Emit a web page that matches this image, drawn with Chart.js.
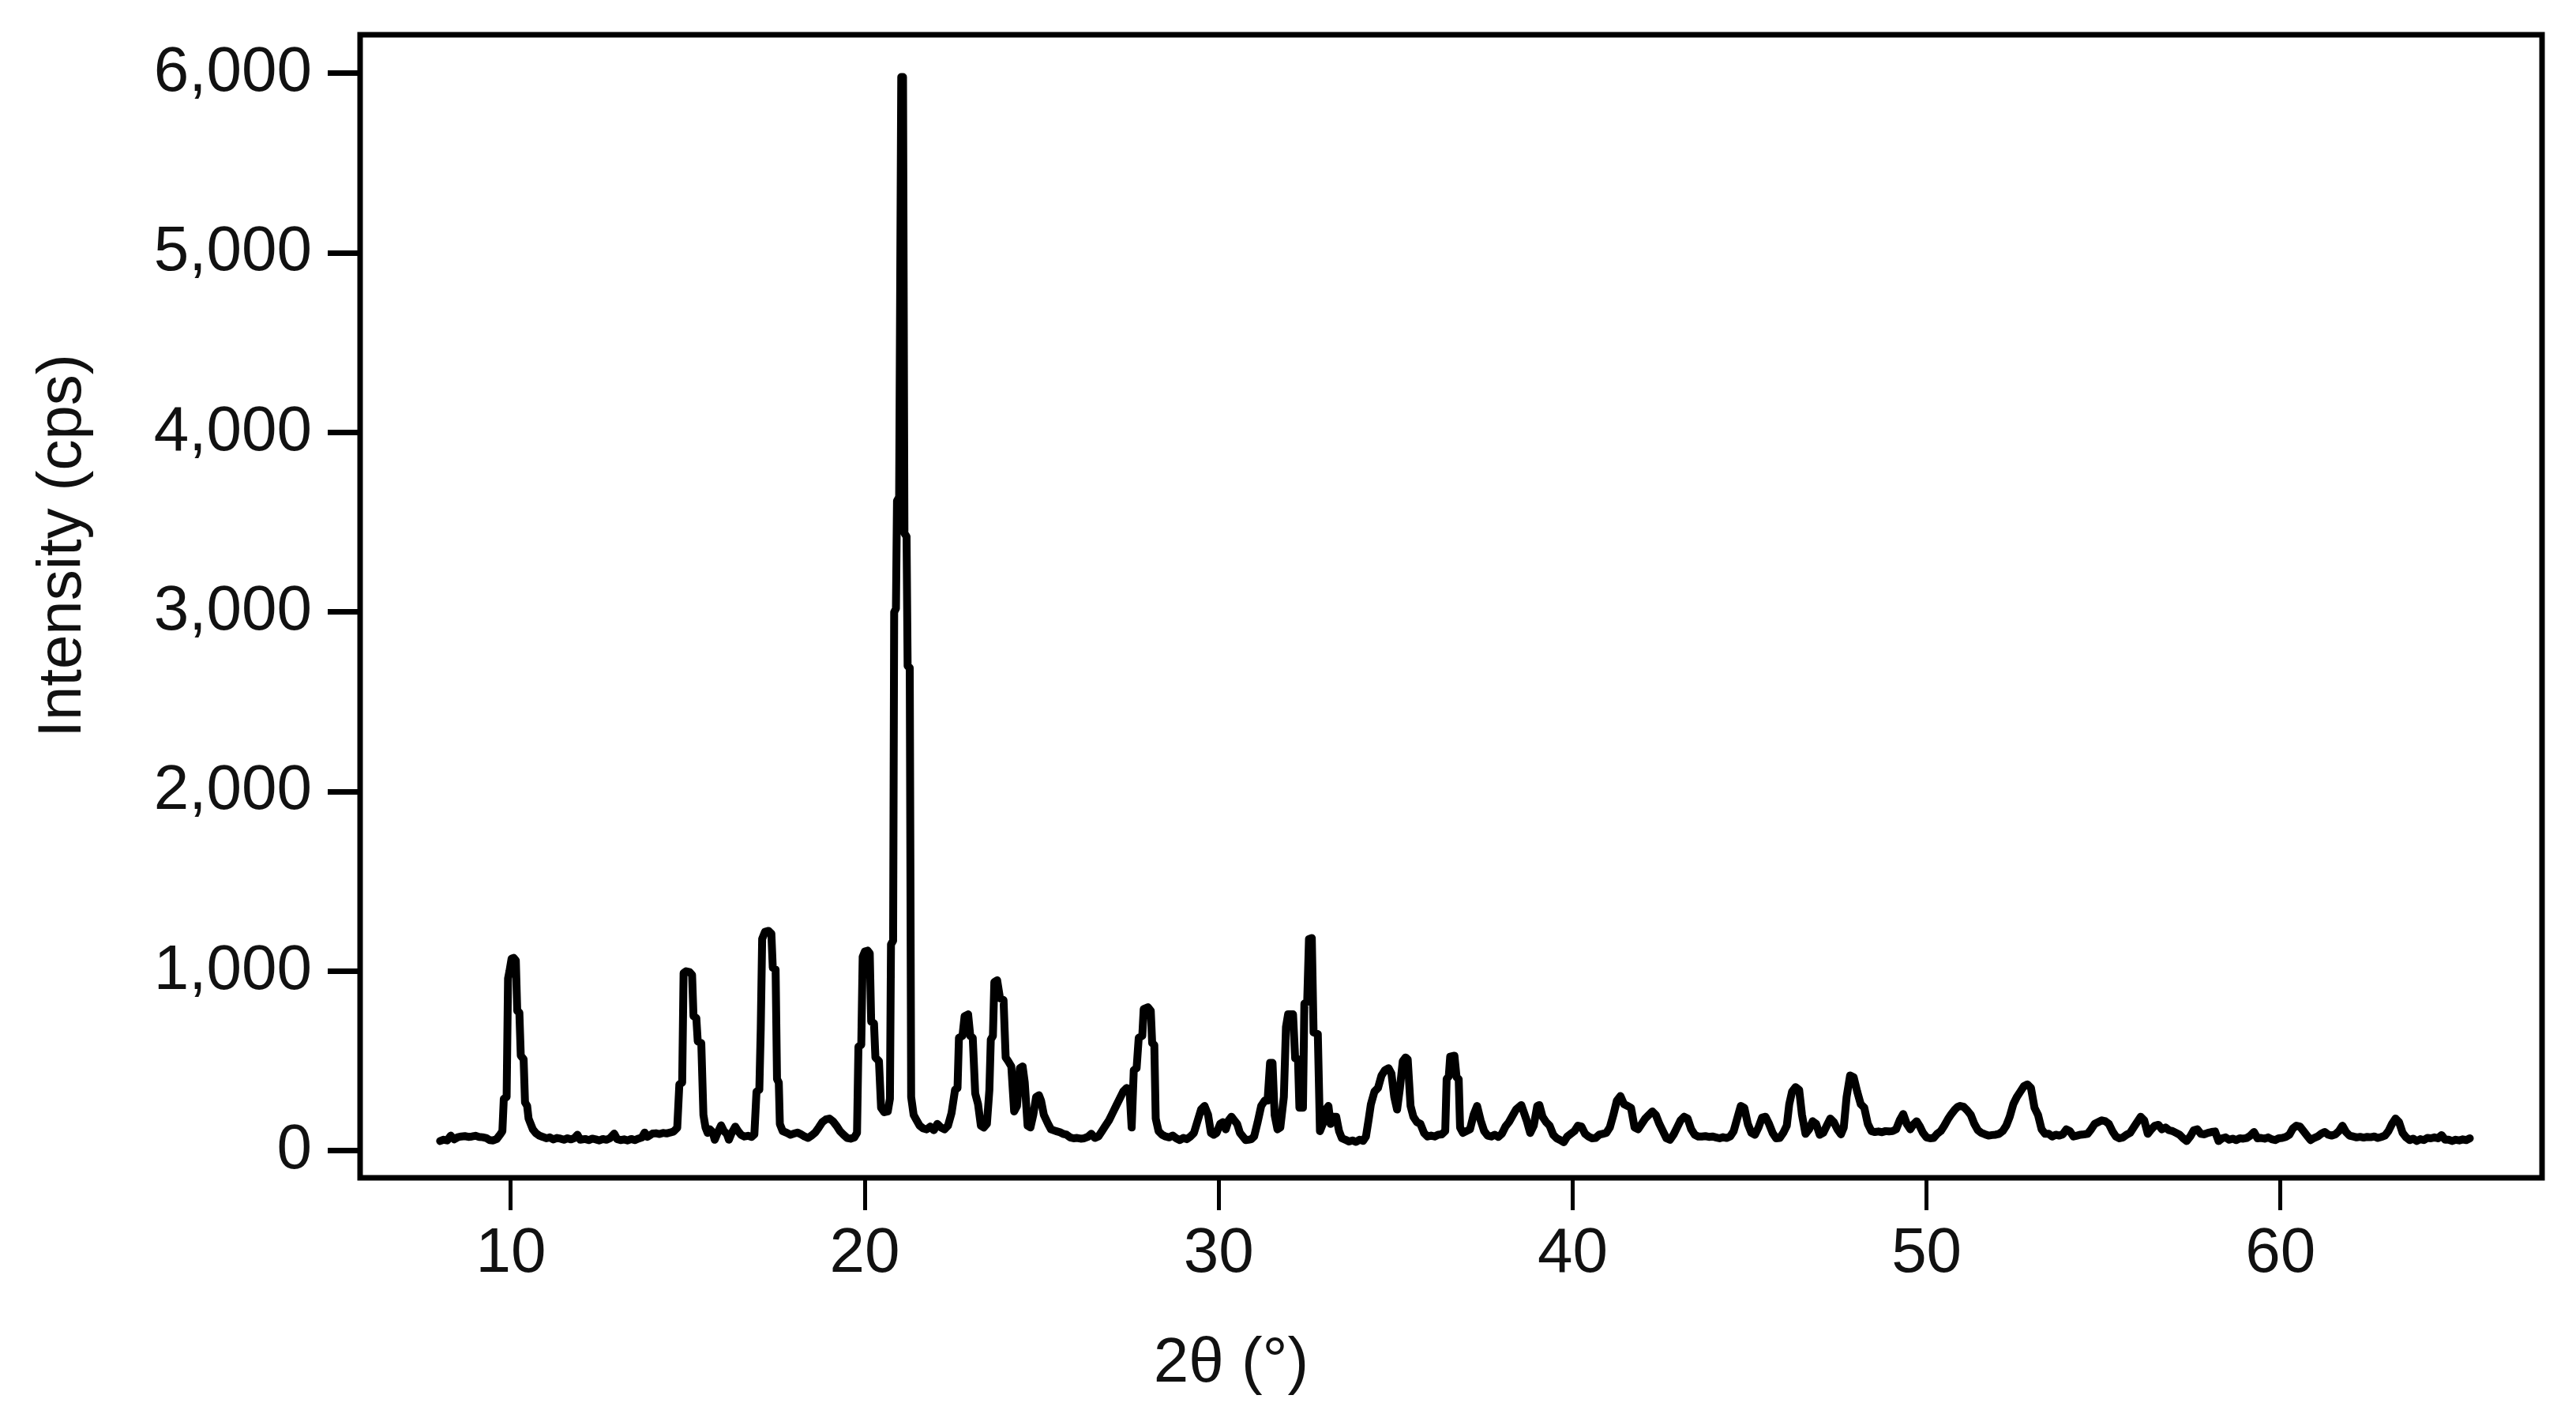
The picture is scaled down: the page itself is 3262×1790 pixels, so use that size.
<!DOCTYPE html>
<html>
<head>
<meta charset="utf-8">
<title>XRD pattern</title>
<script src="https://cdn.jsdelivr.net/npm/chart.js@4"></script>
<style>
  html, body { margin: 0; padding: 0; background: #fff; }
  canvas { display: block; }
</style>
</head>
<body>
<canvas id="xrdChart" width="3262" height="1790"></canvas>
<script>
// ====== AXES ======
const xTicks = [10, 20, 30, 40, 50, 60];
const yTicks = [0, 1000, 2000, 3000, 4000, 5000, 6000];
const xLabel = "2θ (°)";
const yLabel = "Intensity (cps)";

// ====== SCAN DATA: [2θ (°), intensity (cps)] ======
const scan = [
  // 8 - 14.7
  [8.00,55],[8.10,62],[8.20,58],[8.30,85],[8.40,64],[8.50,76],[8.60,80],[8.70,82],[8.80,78],[8.90,80],
  [9.00,84],[9.10,78],[9.20,76],[9.30,72],[9.40,60],[9.50,58],[9.60,66],[9.70,92],[9.76,110],
  [9.80,290],[9.88,300],[9.92,960],[9.96,1000],[10.02,1070],[10.08,1075],[10.14,1060],[10.18,780],[10.24,770],
  [10.28,530],[10.36,510],[10.40,270],[10.46,250],[10.50,180],[10.56,150],[10.62,120],[10.70,100],[10.80,85],
  [10.90,78],[11.00,70],[11.10,75],[11.20,64],[11.30,72],[11.40,68],[11.50,62],[11.60,70],[11.70,64],[11.80,72],
  [11.88,90],[11.96,62],[12.10,66],[12.20,60],[12.30,68],[12.40,64],[12.50,58],[12.60,66],[12.70,62],[12.80,70],
  [12.92,96],[13.00,66],[13.10,60],[13.20,64],[13.30,58],[13.40,66],[13.50,60],[13.60,68],[13.70,74],[13.78,102],
  [13.86,78],[14.00,96],[14.10,98],[14.20,94],[14.30,100],[14.40,97],[14.50,102],[14.60,108],[14.70,128],
  // 14.7 - 20.7
  [14.76,370],[14.84,380],[14.88,990],[14.95,1000],[15.05,995],[15.12,980],[15.16,750],[15.24,740],[15.28,610],
  [15.38,600],[15.44,200],[15.50,130],[15.56,100],[15.62,120],[15.70,105],[15.76,62],[15.84,100],[15.94,142],
  [16.02,110],[16.10,95],[16.16,62],[16.24,100],[16.34,135],[16.42,110],[16.50,90],[16.60,80],[16.70,84],
  [16.80,78],[16.88,92],[16.94,330],[17.02,340],[17.06,680],[17.10,1180],[17.18,1220],[17.28,1225],[17.36,1210],
  [17.40,1020],[17.48,1010],[17.52,400],[17.57,380],[17.60,150],[17.68,110],[17.80,100],[17.90,90],[18.00,96],
  [18.10,102],[18.20,92],[18.30,80],[18.40,72],[18.50,86],[18.60,102],[18.70,130],[18.80,160],[18.90,175],
  [19.00,180],[19.10,165],[19.20,140],[19.30,110],[19.40,90],[19.50,72],[19.60,68],[19.70,74],[19.78,100],
  [19.82,580],[19.90,590],[19.94,1080],[20.00,1110],[20.08,1115],[20.14,1100],[20.18,720],[20.26,710],
  [20.30,520],[20.40,500],[20.46,240],[20.55,215],[20.65,220],[20.71,290],
  // main reflection
  [20.74,1150],[20.80,1170],[20.83,3000],[20.88,3020],[20.91,3620],[20.97,3640],[21.03,5980],[21.08,5980],
  [21.12,3440],[21.18,3420],[21.21,2700],[21.27,2690],[21.31,300],[21.38,200],[21.45,175],
  // 21.5 - 29
  [21.55,140],[21.65,125],[21.75,120],[21.85,135],[21.95,115],[22.05,150],[22.15,130],[22.25,120],[22.35,140],
  [22.45,210],[22.55,340],[22.62,350],[22.66,630],[22.76,640],[22.82,750],[22.92,760],[22.98,640],[23.05,630],
  [23.12,320],[23.20,260],[23.28,140],[23.36,130],[23.45,150],[23.52,340],[23.56,620],[23.62,640],[23.66,940],
  [23.74,950],[23.82,850],[23.92,840],[23.98,520],[24.05,500],[24.14,470],[24.22,220],[24.30,250],[24.38,460],
  [24.46,470],[24.52,380],[24.60,140],[24.68,130],[24.76,200],[24.84,300],[24.92,310],[24.98,280],[25.06,200],
  [25.18,150],[25.26,120],[25.40,110],[25.50,105],[25.60,95],[25.70,90],[25.80,75],[25.90,70],[26.00,72],
  [26.10,68],[26.20,70],[26.30,78],[26.40,95],[26.50,72],[26.60,80],[26.70,110],[26.80,140],[26.90,170],
  [27.00,210],[27.10,250],[27.20,290],[27.30,330],[27.40,350],[27.48,340],[27.54,130],[27.60,450],[27.68,460],
  [27.74,630],[27.84,640],[27.88,790],[28.00,800],[28.08,780],[28.12,600],[28.18,590],[28.22,180],[28.30,110],
  [28.40,90],[28.50,80],[28.60,75],[28.70,85],[28.80,70],[28.90,60],
  // 29 - 38
  [29.00,72],[29.10,65],[29.20,80],[29.30,100],[29.40,165],[29.50,230],[29.60,250],[29.70,200],[29.78,100],
  [29.86,90],[29.94,100],[30.04,150],[30.12,160],[30.20,120],[30.28,170],[30.36,190],[30.44,170],[30.52,150],
  [30.60,100],[30.68,80],[30.76,60],[30.84,62],[30.92,65],[31.00,80],[31.10,160],[31.20,250],[31.30,280],
  [31.38,280],[31.45,490],[31.52,490],[31.58,200],[31.66,120],[31.74,130],[31.84,300],[31.90,690],[31.96,760],
  [32.10,760],[32.16,515],[32.24,510],[32.28,240],[32.38,240],[32.42,820],[32.50,830],[32.55,1180],[32.63,1185],
  [32.68,660],[32.80,650],[32.86,110],[32.94,150],[33.02,230],[33.10,250],[33.16,150],[33.24,190],[33.32,190],
  [33.40,110],[33.48,70],[33.58,62],[33.68,52],[33.78,58],[33.88,50],[33.98,62],[34.08,56],[34.16,80],
  [34.24,180],[34.30,260],[34.40,330],[34.50,350],[34.60,420],[34.70,450],[34.80,460],[34.88,430],[34.96,300],
  [35.04,230],[35.12,350],[35.20,500],[35.28,520],[35.34,510],[35.42,250],[35.50,190],[35.60,160],[35.70,150],
  [35.80,100],[35.90,80],[36.00,85],[36.10,80],[36.20,90],[36.30,92],[36.40,110],[36.44,400],[36.50,415],
  [36.54,525],[36.66,530],[36.72,410],[36.78,400],[36.82,130],[36.90,100],[37.00,110],[37.10,120],[37.20,200],
  [37.30,250],[37.40,170],[37.50,110],[37.60,85],[37.70,80],[37.80,90],[37.90,78],
  // 38 - 52
  [38.00,95],[38.10,135],[38.20,160],[38.30,195],[38.40,230],[38.55,255],[38.70,170],[38.80,100],[38.90,140],
  [39.00,250],[39.06,255],[39.15,190],[39.25,160],[39.35,140],[39.45,90],[39.55,70],[39.65,60],[39.75,48],
  [39.85,80],[39.95,95],[40.05,110],[40.15,140],[40.25,135],[40.35,95],[40.45,80],[40.55,70],[40.65,72],
  [40.75,90],[40.85,95],[40.95,100],[41.05,130],[41.15,200],[41.25,280],[41.35,305],[41.45,260],[41.55,250],
  [41.65,240],[41.75,130],[41.85,120],[41.95,150],[42.05,180],[42.15,200],[42.25,220],[42.35,200],[42.45,150],
  [42.55,110],[42.65,70],[42.75,62],[42.85,90],[42.95,130],[43.05,170],[43.15,190],[43.25,180],[43.35,120],
  [43.45,90],[43.55,80],[43.65,80],[43.75,82],[43.85,78],[43.95,80],[44.05,75],[44.15,70],[44.25,76],
  [44.35,72],[44.45,80],[44.55,110],[44.65,180],[44.75,250],[44.85,240],[44.95,150],[45.05,100],[45.15,90],
  [45.25,130],[45.35,185],[45.45,190],[45.55,150],[45.65,100],[45.75,70],[45.85,72],[45.95,100],[46.05,140],
  [46.12,260],[46.20,330],[46.30,355],[46.40,340],[46.48,200],[46.58,95],[46.68,120],[46.78,165],[46.88,150],
  [46.98,90],[47.08,100],[47.18,140],[47.28,180],[47.38,160],[47.48,120],[47.58,92],[47.66,130],[47.74,300],
  [47.84,420],[47.94,410],[48.04,330],[48.14,260],[48.24,240],[48.34,150],[48.44,110],[48.54,105],[48.64,108],
  [48.74,104],[48.84,110],[48.94,108],[49.04,110],[49.14,120],[49.24,170],[49.34,205],[49.44,150],[49.54,120],
  [49.64,150],[49.72,165],[49.80,140],[49.90,100],[50.00,75],[50.10,70],[50.20,72],[50.30,95],[50.40,110],
  [50.50,140],[50.60,175],[50.70,205],[50.80,230],[50.88,245],[50.95,250],[51.05,245],[51.15,225],[51.25,200],
  [51.35,150],[51.45,115],[51.55,100],[51.65,92],[51.75,85],[51.85,88],[51.95,90],
  // 52 - 65.4
  [52.05,95],[52.15,110],[52.25,140],[52.35,190],[52.45,260],[52.55,300],[52.65,330],[52.75,360],[52.85,370],
  [52.95,350],[53.05,240],[53.15,200],[53.25,120],[53.35,95],[53.45,95],[53.55,80],[53.65,90],[53.75,85],
  [53.85,92],[53.95,120],[54.05,110],[54.15,80],[54.25,85],[54.35,90],[54.45,92],[54.55,95],[54.65,120],
  [54.75,150],[54.85,160],[54.95,170],[55.05,165],[55.15,150],[55.25,110],[55.35,80],[55.45,70],[55.55,75],
  [55.65,90],[55.75,100],[55.85,130],[55.95,160],[56.05,190],[56.15,170],[56.25,95],[56.35,120],[56.45,140],
  [56.55,145],[56.65,120],[56.75,130],[56.85,115],[56.95,110],[57.05,100],[57.15,90],[57.25,70],[57.35,55],
  [57.45,80],[57.55,115],[57.65,120],[57.75,95],[57.85,92],[57.95,100],[58.05,105],[58.15,108],[58.25,55],
  [58.35,70],[58.45,75],[58.55,62],[58.65,68],[58.75,60],[58.85,70],[58.95,68],[59.05,72],[59.15,85],
  [59.25,105],[59.35,70],[59.45,72],[59.55,68],[59.65,75],[59.75,65],[59.85,60],[59.95,70],[60.05,72],
  [60.15,78],[60.25,90],[60.35,125],[60.45,140],[60.55,135],[60.65,110],[60.75,85],[60.85,60],[60.95,72],
  [61.05,80],[61.15,95],[61.25,105],[61.35,90],[61.45,85],[61.55,92],[61.65,110],[61.75,140],[61.85,105],
  [61.95,85],[62.05,80],[62.15,75],[62.25,78],[62.35,74],[62.45,78],[62.55,76],[62.65,80],[62.75,72],
  [62.85,78],[62.95,85],[63.05,110],[63.15,150],[63.25,180],[63.35,160],[63.45,100],[63.55,75],[63.65,60],
  [63.75,68],[63.85,55],[63.95,65],[64.05,60],[64.15,72],[64.25,70],[64.35,75],[64.45,70],[64.55,88],
  [64.65,62],[64.75,62],[64.85,55],[64.95,62],[65.05,58],[65.15,64],[65.25,60],[65.35,70]
];

// ====== LAYOUT ======
const W = 3262, H = 1790;
const plotLeft = 456, plotTop = 44, plotRight = 3219, plotBottom = 1491;
const family = '"Liberation Sans", Arial, Helvetica, sans-serif';
const ink = '#111';

// Box round the plot area + the two axis titles (placed like the original figure)
const framePlugin = {
  id: 'frame',
  afterDraw(chart) {
    const { ctx, chartArea: a } = chart;
    ctx.save();
    ctx.strokeStyle = '#000';
    ctx.lineWidth = 7;
    ctx.strokeRect(a.left, a.top, a.right - a.left, a.bottom - a.top);

    ctx.fillStyle = ink;
    ctx.textAlign = 'center';
    ctx.textBaseline = 'alphabetic';
    ctx.font = `80px ${family}`;
    ctx.fillText(xLabel, 1559, 1749);

    ctx.translate(102, 691);
    ctx.rotate(-Math.PI / 2);
    ctx.font = `78px ${family}`;
    ctx.fillText(yLabel, 0, 0);
    ctx.restore();
  }
};

// keep the plot box exactly where the original has it (no label overflow padding)
function noOverflow(s) {
  s.paddingTop = 0; s.paddingBottom = 0;
  s.paddingLeft = 0; s.paddingRight = 0;
}

// ====== CHART ======
const ctx = document.getElementById('xrdChart').getContext('2d');
new Chart(ctx, {
  type: 'line',
  data: {
    datasets: [{
      data: scan.map(p => ({ x: p[0], y: p[1] })),
      borderColor: '#000',
      borderWidth: 10,
      pointRadius: 0,
      tension: 0,
      fill: false,
      borderJoinStyle: 'round',
      borderCapStyle: 'round'
    }]
  },
  options: {
    responsive: false,
    animation: false,
    devicePixelRatio: 1,
    layout: { padding: { left: 0, top: plotTop, right: W - plotRight, bottom: 0 } },
    plugins: { legend: { display: false }, tooltip: { enabled: false } },
    scales: {
      x: {
        type: 'linear',
        min: 5.74,
        max: 67.39,
        afterBuildTicks: s => { s.ticks = xTicks.map(v => ({ value: v })); },
        afterFit: s => { s.height = H - plotBottom; noOverflow(s); },
        border: { display: false },
        grid: { drawOnChartArea: false, tickLength: 41, tickWidth: 5, tickColor: '#000' },
        ticks: { font: { family, size: 80 }, color: ink, padding: 8, maxRotation: 0, autoSkip: false }
      },
      y: {
        type: 'linear',
        min: -150,
        max: 6215,
        afterBuildTicks: s => { s.ticks = yTicks.map(v => ({ value: v })); },
        afterFit: s => { s.width = plotLeft; noOverflow(s); },
        border: { display: false },
        grid: { drawOnChartArea: false, tickLength: 41, tickWidth: 7, tickColor: '#000' },
        ticks: {
          font: { family, size: 80 }, color: ink, padding: 20,
          callback: v => v.toLocaleString('en-US')
        }
      }
    }
  },
  plugins: [framePlugin]
});
</script>
</body>
</html>
